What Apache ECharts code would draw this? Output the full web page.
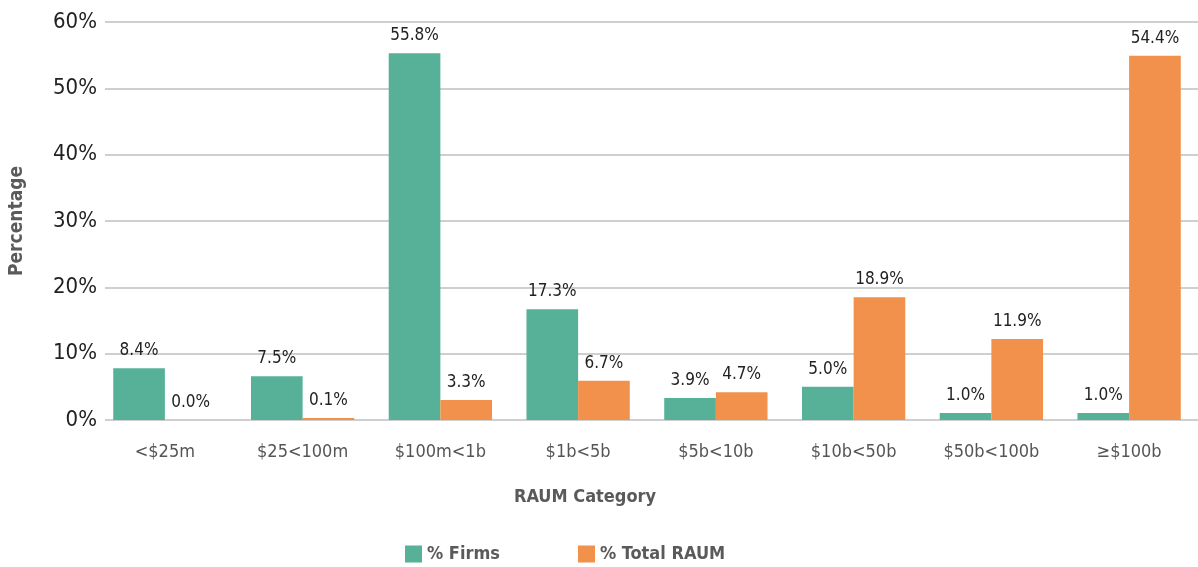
<!DOCTYPE html>
<html>
<head>
<meta charset="utf-8">
<script src="https://cdn.jsdelivr.net/npm/echarts@6/dist/echarts.min.js"></script>
<style>
  html, body { margin: 0; padding: 0; background: #fff; }
  #chart { width: 1198px; height: 567px; }
</style>
</head>
<body>
<div id="chart"></div>
<script>
// RAUM categories
var categories = ['<$25m', '$25<100m', '$100m<1b', '$1b<5b', '$5b<10b', '$10b<50b', '$50b<100b', '≥$100b'];
// bar heights as drawn (%)
var firmsPct = [7.8, 6.6, 55.3, 16.7, 3.3, 5.0, 1.05, 1.05];
var raumPct = [0, 0.3, 3.0, 5.9, 4.2, 18.5, 12.2, 54.9];
// printed value labels
var firmsLabels = ['8.4%', '7.5%', '55.8%', '17.3%', '3.9%', '5.0%', '1.0%', '1.0%'];
var raumLabels = ['0.0%', '0.1%', '3.3%', '6.7%', '4.7%', '18.9%', '11.9%', '54.4%'];
var yTicks = [0, 10, 20, 30, 40, 50, 60];

var FONT = '"DejaVu Sans Condensed"';
var dom = document.getElementById('chart');
var myChart = echarts.init(dom, null, {renderer: 'canvas'});

function makeSeries(name, values, labels, color) {
    var data = [];
    for (var i = 0; i < values.length; i++) {
        data.push({value: values[i], label: {formatter: labels[i]}});
    }
    return {
        name: name,
        type: 'bar',
        xAxisIndex: 1,
        yAxisIndex: 1,
        barGap: '0%',
        barCategoryGap: '25%',
        itemStyle: {color: color},
        label: {
            show: true,
            position: 'top',
            distance: 9,
            color: '#222',
            fontFamily: FONT,
            fontSize: 17
        },
        data: data
    };
}

var yMin = yTicks[0], yMax = yTicks[yTicks.length - 1];

var option = {
    backgroundColor: '#fff',
    animation: false,
    textStyle: {fontFamily: FONT},
    // grid 0: gridlines + y labels, grid 1: bars + category labels
    grid: [
        {left: 103, right: 0, top: 22, bottom: 147},
        {left: 96, right: -10, top: 22, bottom: 147}
    ],
    legend: {
        left: 405,
        top: 545,
        padding: 0,
        itemWidth: 17,
        itemHeight: 17,
        itemGap: 78,
        icon: 'rect',
        textStyle: {color: '#5a5a5a', fontFamily: FONT, fontSize: 18, fontWeight: 'bold'},
        data: ['% Firms', '% Total RAUM']
    },
    xAxis: [{
        gridIndex: 0,
        type: 'value',
        show: false
    }, {
        gridIndex: 1,
        type: 'category',
        data: categories,
        name: 'RAUM Category',
        nameLocation: 'middle',
        nameGap: 68,
        nameTextStyle: {color: '#5a5a5a', fontFamily: FONT, fontSize: 18, fontWeight: 'bold', padding: [0, 124, 0, 0]},
        axisLine: {show: false},
        axisTick: {show: false},
        axisLabel: {color: '#555', fontFamily: FONT, fontSize: 18, margin: 23, interval: 0}
    }],
    yAxis: [{
        gridIndex: 0,
        type: 'value',
        min: yMin,
        max: yMax,
        interval: 10,
        name: 'Percentage',
        nameLocation: 'middle',
        nameGap: 78,
        nameTextStyle: {color: '#5a5a5a', fontFamily: FONT, fontSize: 19, fontWeight: 'bold'},
        axisLine: {show: false},
        axisTick: {show: false},
        axisLabel: {
            color: '#222',
            fontFamily: FONT,
            fontSize: 22,
            margin: 8,
            formatter: function (v) { return v + '%'; }
        },
        splitLine: {lineStyle: {color: '#cfcfcf', width: 2}}
    }, {
        gridIndex: 1,
        type: 'value',
        min: yMin,
        max: yMax,
        interval: 10,
        show: false,
        splitLine: {show: false}
    }],
    series: [
        makeSeries('% Firms', firmsPct, firmsLabels, '#57B199'),
        makeSeries('% Total RAUM', raumPct, raumLabels, '#F1914B')
    ]
};

myChart.setOption(option);
</script>
</body>
</html>
